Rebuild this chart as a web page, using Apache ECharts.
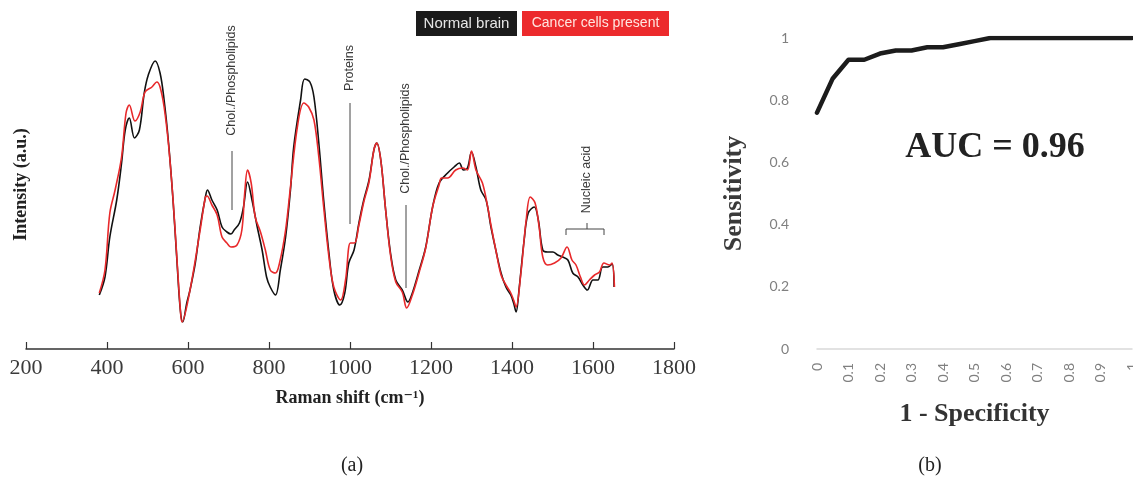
<!DOCTYPE html>
<html>
<head>
<meta charset="utf-8">
<script src="https://cdn.jsdelivr.net/npm/echarts@6/dist/echarts.min.js"></script>
<style>html,body{margin:0;padding:0;background:#fff;}#c{width:1133px;height:478px;}</style>
</head>
<body>
<div id="c"></div>
<script>
// ---- Panel (a): Raman spectra ----
const normalShift = [381,395,407,424,436,445,455,468,480,492,502,519,531,541,552,563,573,581,587,597,605,618,630,643,648,659,672,684,696,706,714,727,737,747,758,771,783,794,803,816,828,841,853,861,878,888,901,911,923,935,948,960,975,987,997,1010,1022,1034,1047,1059,1066,1076,1088,1100,1113,1129,1143,1154,1171,1187,1204,1220,1241,1257,1270,1280,1290,1300,1311,1323,1336,1348,1360,1373,1385,1397,1404,1410,1418,1430,1440,1455,1465,1476,1488,1501,1513,1525,1538,1550,1563,1575,1586,1600,1612,1624,1637,1647,1652];
const normalIntensity = [54,72,112,149,186,219,231,211,219,256,274,288,276,249,206,149,86,39,27,46,59,86,122,152,159,149,139,122,117,115,119,126,142,167,149,122,99,72,62,54,79,112,159,202,249,270,267,252,206,149,96,59,44,56,86,99,126,149,169,199,206,189,139,96,69,59,47,56,79,102,142,166,176,182,186,179,181,197,182,159,149,122,99,76,62,54,46,37,62,109,136,142,129,99,97,97,94,92,89,76,72,64,59,69,69,82,82,85,62];
const cancerShift = [381,395,407,420,436,447,455,469,482,494,511,523,531,541,552,563,573,581,585,605,630,643,647,659,672,684,696,706,721,733,740,747,756,766,779,791,803,816,826,841,853,870,886,898,911,923,935,948,960,977,989,1001,1011,1022,1034,1047,1059,1066,1076,1088,1100,1113,1129,1140,1154,1171,1187,1204,1220,1226,1241,1261,1278,1290,1300,1311,1327,1340,1348,1360,1373,1385,1397,1404,1410,1422,1435,1445,1457,1467,1476,1488,1505,1521,1536,1548,1558,1569,1579,1591,1604,1616,1627,1641,1647,1653];
const cancerIntensity = [56,79,136,159,192,236,244,228,237,257,262,267,262,242,204,150,88,40,27,59,119,152,153,144,134,112,106,102,104,119,156,179,166,132,117,99,79,76,86,119,162,222,246,242,229,192,142,92,62,49,69,106,106,124,147,167,199,206,189,139,94,67,57,41,54,77,101,142,164,171,171,179,181,179,198,179,166,142,124,99,74,64,56,49,42,76,129,152,146,122,92,84,86,91,102,89,84,72,64,69,74,77,86,84,86,62];
const shiftTicks = [200,400,600,800,1000,1200,1400,1600,1800];
const seriesNames = ['Normal brain','Cancer cells present'];
const annotations = ['Chol./Phospholipids','Proteins','Chol./Phospholipids','Nucleic acid'];

// ---- Panel (b): ROC curve ----
const fpr = [0,0.05,0.1,0.15,0.2,0.25,0.3,0.35,0.4,0.45,0.5,0.55,0.6,0.65,0.7,0.75,0.8,0.85,0.9,0.95,1];
const tpr = [0.76,0.87,0.93,0.93,0.95,0.96,0.96,0.97,0.97,0.98,0.99,1,1,1,1,1,1,1,1,1,1];
const aucText = 'AUC = 0.96';

const pair = (xs, ys) => xs.map((x, i) => [x, ys[i]]);
const serif = '"Liberation Serif","DejaVu Serif",serif';
const sans = '"Liberation Sans",Arial,sans-serif';

const chart = echarts.init(document.getElementById('c'), null, {renderer: 'canvas'});

const annText = (txt, x, y) => ({
  type: 'text', x: x, y: y, rotation: Math.PI / 2,
  style: {text: txt, font: '12.5px ' + sans, fill: '#3a3a3a', align: 'center', verticalAlign: 'middle'}
});
const vline = (x, y1, y2) => ({
  type: 'line', shape: {x1: x, y1: y1, x2: x, y2: y2}, style: {stroke: '#444', lineWidth: 1}
});

chart.setOption({
  animation: false,
  backgroundColor: '#fff',
  grid: [
    {left: 26, right: 459, top: 20, bottom: 129, containLabel: false, outerBoundsMode: 'none'},
    {left: 817, right: 1, top: 38, bottom: 129, containLabel: false, outerBoundsMode: 'none'}
  ],
  xAxis: [
    {
      gridIndex: 0, type: 'value', min: 200, max: 1800, interval: 200,
      name: 'Raman shift (cm\u207B\u00B9)', nameLocation: 'middle', nameGap: 40,
      nameTextStyle: {fontFamily: serif, fontWeight: 'bold', fontSize: 18, color: '#222'},
      axisLine: {show: true, lineStyle: {color: '#333', width: 1.5}},
      axisTick: {show: true, inside: true, length: 7, lineStyle: {color: '#333', width: 1.2}},
      axisLabel: {fontFamily: serif, fontSize: 22, color: '#3a3a3a', margin: 8,
        formatter: v => String(v)},
      splitLine: {show: false}
    },
    {
      gridIndex: 1, type: 'value', min: 0, max: 1, interval: 0.1,
      name: '1 - Specificity', nameLocation: 'middle', nameGap: 52,
      nameTextStyle: {fontFamily: serif, fontWeight: 'bold', fontSize: 26, color: '#333'},
      axisLine: {show: true, lineStyle: {color: '#d9d9d9', width: 1.5}},
      axisTick: {show: false},
      axisLabel: {rotate: 90, margin: 14, fontFamily: '"Lato","Open Sans",sans-serif', fontSize: 14, color: '#808080',
        formatter: v => String(+v.toFixed(1))},
      splitLine: {show: false}
    }
  ],
  yAxis: [
    {
      gridIndex: 0, type: 'value', min: 0, max: 329,
      name: 'Intensity (a.u.)', nameLocation: 'middle', nameGap: -4,
      nameTextStyle: {fontFamily: serif, fontWeight: 'bold', fontSize: 18, color: '#222'},
      axisLine: {show: false}, axisTick: {show: false}, axisLabel: {show: false}, splitLine: {show: false}
    },
    {
      gridIndex: 1, type: 'value', min: 0, max: 1, interval: 0.2,
      name: 'Sensitivity', nameLocation: 'middle', nameGap: 70,
      nameTextStyle: {fontFamily: serif, fontWeight: 'bold', fontSize: 26, color: '#3a3a3a'},
      axisLine: {show: false}, axisTick: {show: false},
      axisLabel: {margin: 28, fontFamily: '"Lato","Open Sans",sans-serif', fontSize: 14, color: '#808080',
        formatter: v => String(+v.toFixed(1))},
      splitLine: {show: false}
    }
  ],
  series: [
    {
      name: seriesNames[0], type: 'line', xAxisIndex: 0, yAxisIndex: 0,
      data: pair(normalShift, normalIntensity), showSymbol: false, smooth: 0.35,
      lineStyle: {color: '#111', width: 1.6}
    },
    {
      name: seriesNames[1], type: 'line', xAxisIndex: 0, yAxisIndex: 0,
      data: pair(cancerShift, cancerIntensity), showSymbol: false, smooth: 0.35,
      lineStyle: {color: '#e8292b', width: 1.6}
    },
    {
      name: 'ROC', type: 'line', xAxisIndex: 1, yAxisIndex: 1,
      data: pair(fpr, tpr), showSymbol: false,
      lineStyle: {color: '#1c1c1c', width: 4.5, cap: 'round', join: 'round'}
    }
  ],
  graphic: [
    // legend
    {type: 'rect', shape: {x: 416, y: 11, width: 101, height: 25}, style: {fill: '#1b1b1b'}},
    {type: 'text', x: 466.5, y: 23.5, style: {text: seriesNames[0], font: '15px ' + sans, fill: '#e6e6e6', align: 'center', verticalAlign: 'middle'}},
    {type: 'rect', shape: {x: 522, y: 11, width: 147, height: 25}, style: {fill: '#ec2a2c'}},
    {type: 'text', x: 595.5, y: 23.5, style: {text: seriesNames[1], font: '14px ' + sans, fill: '#ffe6e0', align: 'center', verticalAlign: 'middle'}},
    // annotations
    annText(annotations[0], 232, 80.5), vline(232, 151, 210),
    annText(annotations[1], 350, 68), vline(350, 103, 224),
    annText(annotations[2], 406, 138.5), vline(406, 205, 288),
    annText(annotations[3], 587, 179.5),
    {type: 'polyline', shape: {points: [[566, 235], [566, 229], [604, 229], [604, 235]]}, style: {stroke: '#444', lineWidth: 1, fill: null}},
    vline(587, 223, 229),
    // AUC
    {type: 'text', x: 995, y: 148, style: {text: aucText, font: 'bold 36px ' + serif, fill: '#222', align: 'center', verticalAlign: 'middle'}},
    // captions
    {type: 'text', x: 352, y: 466, style: {text: '(a)', font: '20px ' + serif, fill: '#222', align: 'center', verticalAlign: 'middle'}},
    {type: 'text', x: 930, y: 466, style: {text: '(b)', font: '20px ' + serif, fill: '#222', align: 'center', verticalAlign: 'middle'}}
  ]
});
</script>
</body>
</html>
